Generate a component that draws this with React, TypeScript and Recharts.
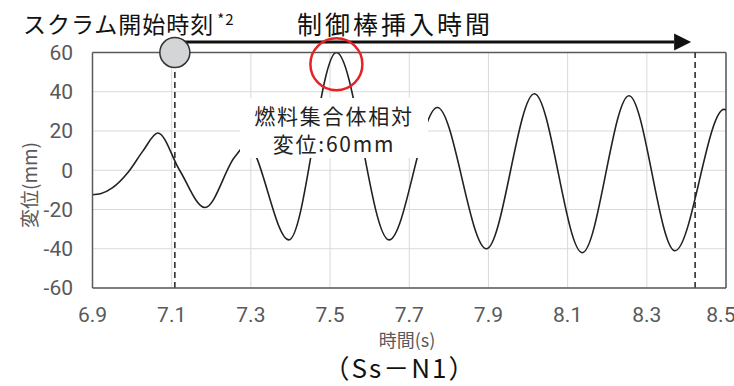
import React from "react";
import {
  CartesianGrid,
  Line,
  LineChart,
  ReferenceDot,
  ReferenceLine,
  XAxis,
  YAxis,
} from "recharts";

// fuel assembly relative displacement, Ss-N1
const times = [
  6.9, 6.92, 6.95, 6.99, 7.028, 7.065, 7.12, 7.184, 7.26, 7.29, 7.396, 7.516,
  7.649, 7.771, 7.895, 8.016, 8.137, 8.255, 8.371, 8.495, 8.5,
];
const disp = [
  -12.5, -12, -9, -1, 10, 19, 0, -19, 7, 13, -35.5, 60, -35.5, 32, -40, 39, -42,
  38, -41, 31, 30.8,
];
const xTicks = [6.9, 7.1, 7.3, 7.5, 7.7, 7.9, 8.1, 8.3, 8.5];
const yTicks = [-60, -40, -20, 0, 20, 40, 60];

const scramStart = 7.108;
const insertEnd = 8.422;
const peakTime = 7.516;
const peakDisp = 60;

const rows = times.map((t, i) => ({ t, d: disp[i] }));

const JP = "'Noto Sans CJK JP', 'Noto Sans', sans-serif";
const NUM = "Roboto, 'Noto Sans', sans-serif";
const GRAY = "#595959";

function Arrow(props: any) {
  const { x1, y1, x2 } = props;
  return (
    <g>
      <line x1={x1} y1={y1} x2={x2} y2={y1} stroke="#111" strokeWidth={3} />
      <polygon
        points={`${x2},${y1 - 8.5} ${x2 + 17},${y1} ${x2},${y1 + 8.5}`}
        fill="#111"
      />
    </g>
  );
}

const centered = (left: number, top: number): React.CSSProperties => ({
  position: "absolute",
  left,
  top,
  transform: "translate(-50%, -50%)",
  whiteSpace: "nowrap",
  lineHeight: 1,
});

export default function App() {
  return (
    <div
      style={{
        position: "absolute",
        left: 0,
        top: 0,
        width: 734,
        height: 386,
        background: "#fff",
        fontFamily: JP,
      }}
    >
      <LineChart
        width={734}
        height={386}
        data={rows}
        margin={{ top: 52.5, right: 8, bottom: 68, left: 20 }}
      >
        <CartesianGrid stroke="#d9d9d9" strokeWidth={1} />
        <XAxis
          dataKey="t"
          type="number"
          domain={[6.9, 8.5]}
          ticks={xTicks}
          tickFormatter={(v) => v.toFixed(1)}
          allowDataOverflow
          height={30}
          tickSize={0}
          tickMargin={19}
          tickLine={false}
          axisLine={{ stroke: GRAY, strokeWidth: 1.5 }}
          tick={{ fontSize: 21, fill: GRAY, fontFamily: NUM }}
        />
        <YAxis
          type="number"
          domain={[-60, 60]}
          ticks={yTicks}
          allowDataOverflow
          width={72.5}
          tickSize={0}
          tickMargin={19.5}
          tickLine={false}
          axisLine={{ stroke: GRAY, strokeWidth: 1.5 }}
          tick={{ fontSize: 21, fill: GRAY, fontFamily: NUM }}
        />
        <ReferenceLine y={60} stroke={GRAY} strokeWidth={1.5} />
        <ReferenceLine x={8.5} stroke={GRAY} strokeWidth={1.5} />
        <Line
          type="monotone"
          dataKey="d"
          stroke="#222"
          strokeWidth={1.6}
          dot={false}
          isAnimationActive={false}
        />
        <ReferenceLine
          x={scramStart}
          stroke="#222"
          strokeWidth={1.5}
          strokeDasharray="6 4"
        />
        <ReferenceLine
          x={insertEnd}
          stroke="#222"
          strokeWidth={1.5}
          strokeDasharray="6 4"
        />
        <ReferenceLine
          segment={[
            { x: scramStart, y: 65.3 },
            { x: 8.369, y: 65.3 },
          ]}
          ifOverflow="visible"
          shape={<Arrow />}
        />
        <ReferenceDot
          x={scramStart}
          y={60}
          r={15}
          fill="#d4d5d6"
          stroke="#333"
          strokeWidth={1.5}
          ifOverflow="visible"
        />
        <ReferenceDot
          x={peakTime}
          y={54}
          r={26}
          fill="none"
          stroke="#e52326"
          strokeWidth={2.5}
          ifOverflow="visible"
        />
      </LineChart>

      {/* headings above the plot */}
      <div
        style={{
          position: "absolute",
          left: 23,
          top: 12,
          fontSize: 23,
          letterSpacing: 1,
          color: "#111",
          whiteSpace: "nowrap",
          lineHeight: 1,
        }}
      >
        スクラム開始時刻
        <span style={{ fontSize: 15, position: "relative", top: -8, marginLeft: 3 }}>
          *2
        </span>
      </div>
      <div
        style={{
          position: "absolute",
          left: 297,
          top: 11,
          fontSize: 25,
          letterSpacing: 3,
          color: "#111",
          whiteSpace: "nowrap",
          lineHeight: 1,
        }}
      >
        制御棒挿入時間
      </div>

      {/* callout over the peak */}
      <div
        style={{
          position: "absolute",
          left: 240,
          top: 98,
          width: 188,
          height: 60,
          background: "#fff",
          color: "#222",
          fontSize: 21,
          letterSpacing: 1.8,
          textAlign: "center",
          lineHeight: "28px",
          paddingTop: 3,
          boxSizing: "border-box",
          whiteSpace: "nowrap",
        }}
      >
        <div>燃料集合体相対</div>
        <div>変位:{peakDisp}mm</div>
      </div>

      <div
        style={{
          ...centered(28, 185),
          transform: "translate(-50%, -50%) rotate(-90deg)",
          fontSize: 19,
          color: GRAY,
        }}
      >
        変位(mm)
      </div>
      <div style={{ ...centered(407, 339), fontSize: 18, color: GRAY }}>
        時間(s)
      </div>
      <div
        style={{
          ...centered(400, 367),
          fontSize: 26,
          letterSpacing: 2,
          color: "#111",
        }}
      >
        （Ss－N1）
      </div>
    </div>
  );
}
